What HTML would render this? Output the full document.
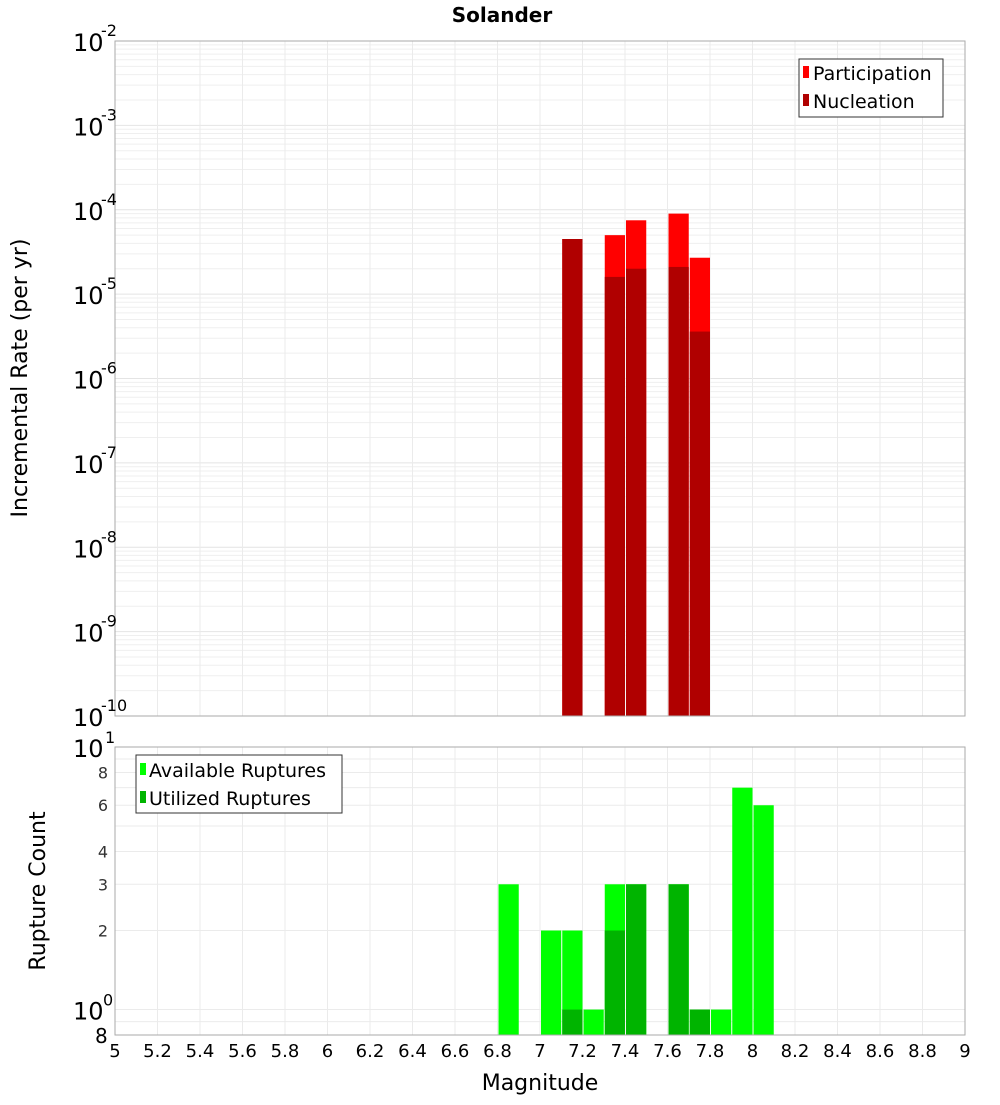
<!DOCTYPE html>
<html><head><meta charset="utf-8"><style>
body{margin:0;background:#fff;font-family:"Liberation Sans","DejaVu Sans",sans-serif}
svg text{font-family:"DejaVu Sans","Liberation Sans",sans-serif}
</style></head><body>
<svg id="c" width="1000" height="1100" xmlns="http://www.w3.org/2000/svg">
<text x="502" y="22" text-anchor="middle" font-size="20" font-weight="bold">Solander</text>
<g id="gtop"></g>
<g id="gbot"></g>
<text transform="translate(27,378) rotate(-90)" text-anchor="middle" font-size="22">Incremental Rate (per yr)</text>
<text transform="translate(45,891) rotate(-90)" text-anchor="middle" font-size="22">Rupture Count</text>
<text x="540" y="1090" text-anchor="middle" font-size="22">Magnitude</text>
<g>
<rect x="799" y="59" width="144" height="58" fill="#fff" stroke="#333"/>
<rect x="803" y="66" width="6" height="12" fill="#ff0000"/>
<text x="813" y="80" font-size="19">Participation</text>
<rect x="803" y="94" width="6" height="12" fill="#b00000"/>
<text x="813" y="108" font-size="19">Nucleation</text>
</g>
<g>
<rect x="136" y="755" width="206" height="58" fill="#fff" stroke="#333"/>
<rect x="140" y="763" width="6" height="12" fill="#00ff00"/>
<text x="149" y="777" font-size="19">Available Ruptures</text>
<rect x="140" y="791" width="6" height="12" fill="#00b400"/>
<text x="149" y="805" font-size="19">Utilized Ruptures</text>
</g>
</svg>
<script>
const mags=[7.15,7.35,7.45,7.65,7.75];
const participation=[4.5e-5,5e-5,7.5e-5,9e-5,2.7e-5];
const nucleation=[4.5e-5,1.6e-5,2e-5,2.1e-5,3.6e-6];
const cMags=[6.85,7.05,7.15,7.25,7.35,7.45,7.65,7.75,7.85,7.95,8.05];
const available=[3,2,2,1,3,3,3,1,1,7,6];
const utilized=[0,0,1,0,2,3,3,1,0,0,0];
const xTicks=[5,5.2,5.4,5.6,5.8,6,6.2,6.4,6.6,6.8,7,7.2,7.4,7.6,7.8,8,8.2,8.4,8.6,8.8,9];
const rateExps=[-2,-3,-4,-5,-6,-7,-8,-9,-10];
const countTicks=[2,3,4,6,8];

const NS="http://www.w3.org/2000/svg";
const X0=115,X1=965;
const xs=m=>X0+(m-5)/4*(X1-X0);
const T0=41,T1=716;
const yt=v=>T0+(-2-Math.log10(v))/8*(T1-T0);
const B0=747,B1=1035;
const yb=v=>B0+(1-Math.log10(v))/(1-Math.log10(0.8))*(B1-B0);
function mk(p,tag,a){const e=document.createElementNS(NS,tag);for(const k in a)e.setAttribute(k,a[k]);p.appendChild(e);return e;}
const gTop=document.getElementById('gtop'),gBot=document.getElementById('gbot');
mk(gTop,'rect',{x:X0,y:T0,width:X1-X0,height:T1-T0,fill:'#fff'});
mk(gBot,'rect',{x:X0,y:B0,width:X1-X0,height:B1-B0,fill:'#fff'});
for(let e=-10;e<-2;e++)for(let k=1;k<10;k++){const y=yt(k*Math.pow(10,e));mk(gTop,'line',{x1:X0,x2:X1,y1:y,y2:y,stroke:k==1?'#e4e4e4':'#efefef','stroke-width':1});}
for(const v of [0.8,0.9,1,2,3,4,5,6,7,8,9]){const y=yb(v);mk(gBot,'line',{x1:X0,x2:X1,y1:y,y2:y,stroke:'#ebebeb'});}
for(const t of xTicks){const x=xs(t);mk(gTop,'line',{x1:x,x2:x,y1:T0,y2:T1,stroke:'#ebebeb'});mk(gBot,'line',{x1:x,x2:x,y1:B0,y2:B1,stroke:'#ebebeb'});}
const bw=(X1-X0)/40;
mags.forEach((m,i)=>{
 const x=xs(m)-bw/2+1;
 let r=mk(gTop,'rect',{x:x,y:yt(participation[i]),width:bw-1,height:T1-yt(participation[i]),fill:'#ff0000'});
 
 
 r=mk(gTop,'rect',{x:x,y:yt(nucleation[i]),width:bw-1,height:T1-yt(nucleation[i]),fill:'#b00000'});
 
 
});
cMags.forEach((m,i)=>{
 const x=xs(m)-bw/2+1;
 let r=mk(gBot,'rect',{x:x,y:yb(available[i]),width:bw-1,height:B1-yb(available[i]),fill:'#00ff00'});
 
 
 if(utilized[i]>0){
 r=mk(gBot,'rect',{x:x,y:yb(utilized[i]),width:bw-1,height:B1-yb(utilized[i]),fill:'#00b400'});
 
 }
});
mk(gTop,'rect',{x:X0,y:T0,width:X1-X0,height:T1-T0,fill:'none',stroke:'#aaa'});
mk(gBot,'rect',{x:X0,y:B0,width:X1-X0,height:B1-B0,fill:'none',stroke:'#aaa'});
rateExps.forEach(e=>{
 const y=yt(Math.pow(10,e));
 const t=mk(gTop,'text',{x:73,y:y+10,'font-size':24});
 t.textContent='10';
 
 
 const s=mk(gTop,'text',{x:101,y:y-5,'font-size':16});
 s.textContent=String(e);
 
 
});
let t=mk(gBot,'text',{x:73,y:yb(10)+10,'font-size':24});t.textContent='10';


t=mk(gBot,'text',{x:105,y:yb(10)-4,'font-size':16});t.textContent='1';
t=mk(gBot,'text',{x:73,y:yb(1)+10,'font-size':24});t.textContent='10';


t=mk(gBot,'text',{x:103,y:yb(1)-4,'font-size':16});t.textContent='0';
t=mk(gBot,'text',{x:95,y:yb(0.8)+8,'font-size':20});t.textContent='8';
countTicks.forEach(v=>{
 const e=mk(gBot,'text',{x:108,y:yb(v)+6,'font-size':16,'text-anchor':'end',fill:'#333'});
 e.textContent=String(v);
 
 
});
xTicks.forEach(v=>{
 const e=mk(gBot,'text',{x:xs(v),y:1057,'font-size':18,'text-anchor':'middle'});
 e.textContent=String(v);
 
 
});
</script>
</body></html>
